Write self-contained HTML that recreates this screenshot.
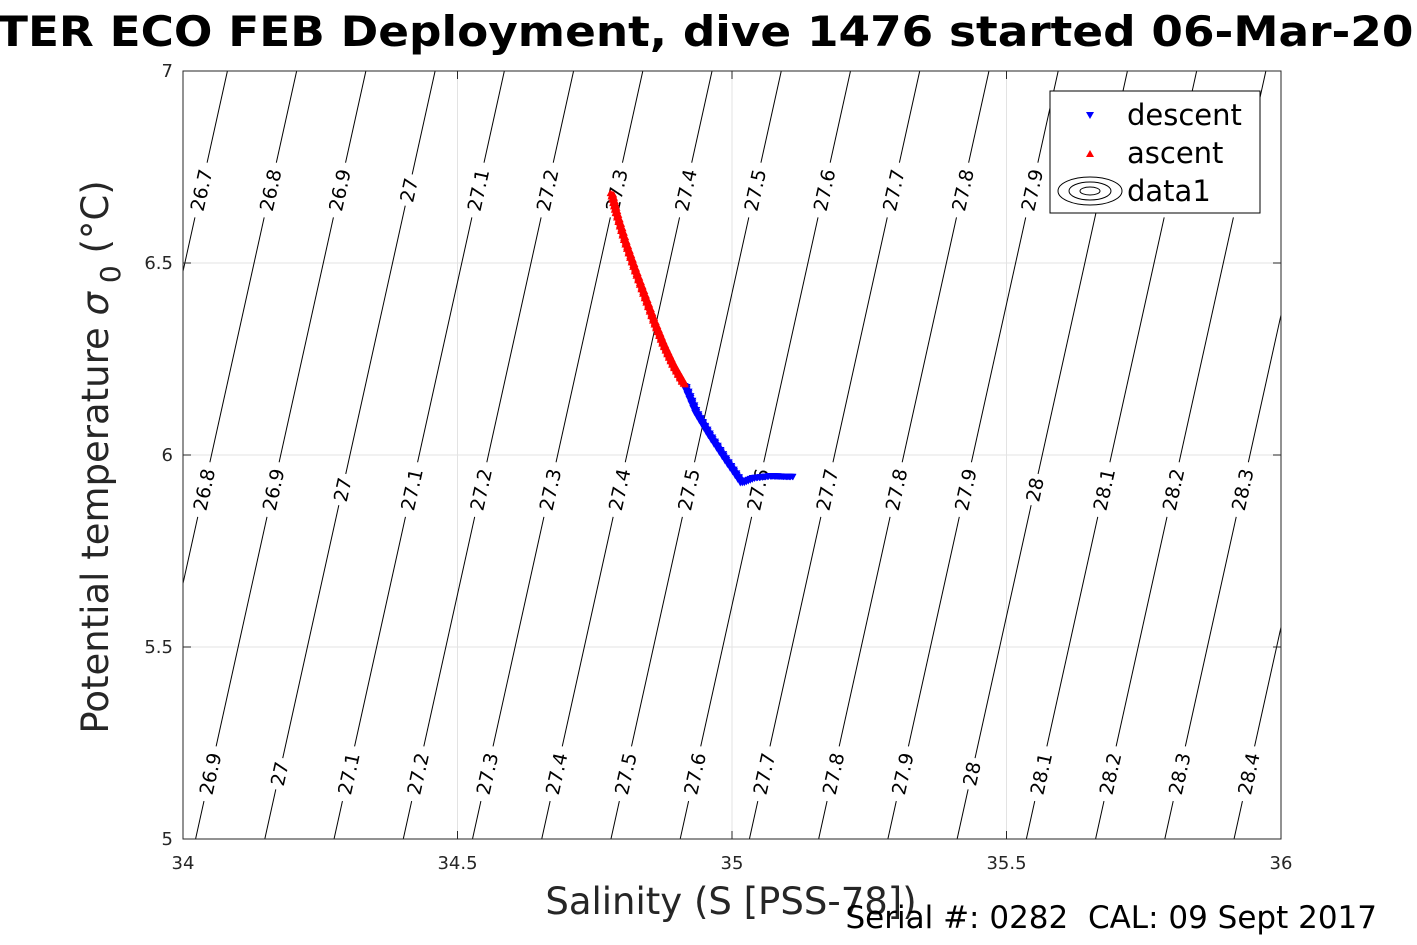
<!DOCTYPE html>
<html><head><meta charset="utf-8"><style>
html,body{margin:0;padding:0;background:#fff;overflow:hidden;}
svg{display:block;font-family:"DejaVu Sans","Liberation Sans",sans-serif;}
</style></head><body>
<svg id="chart" width="1417" height="945">
<g><text x="-3" y="46" font-size="42" font-weight="bold" textLength="1448" lengthAdjust="spacingAndGlyphs">TER ECO FEB Deployment, dive 1476 started 06-Mar-201</text></g>
<rect x="183" y="71" width="1098" height="768" fill="#fff" stroke="none"/>
<g id="grid"></g>
<g id="contours"></g>
<g id="series"></g>
<g id="axes"></g>
<g>
<rect x="1050" y="91" width="210" height="122" fill="#fff" stroke="#000" stroke-width="1"/>
<polygon points="1086,112 1094,112 1090,119" fill="#00f"/>
<text x="1127" y="125" font-size="29">descent</text>
<polygon points="1086,157 1094,157 1090,150" fill="#f00"/>
<text x="1127" y="163" font-size="29">ascent</text>
<g fill="none" stroke="#000" stroke-width="1">
<ellipse cx="1090" cy="191" rx="32" ry="14"/><ellipse cx="1090" cy="191" rx="21" ry="9"/><ellipse cx="1090" cy="191" rx="10" ry="4"/></g>
<text x="1127" y="201" font-size="29">data1</text>
</g>
<text x="731" y="914" text-anchor="middle" font-size="37" fill="#262626">Salinity (S [PSS-78])</text>
<text transform="translate(108,457) rotate(-90)" text-anchor="middle" font-size="37" fill="#262626">Potential temperature <tspan font-style="italic">σ</tspan><tspan dy="12" font-size="28"> 0</tspan><tspan dy="-12"> (°C)</tspan></text>
<text x="1377" y="928" text-anchor="end" font-size="31" xml:space="preserve" style="white-space:pre">Serial #: 0282  CAL: 09 Sept 2017</text>
</svg>
<script>
const xTicks=[34,34.5,35,35.5,36];
const yTicks=[5,5.5,6,6.5,7];
const xTickLabels=["34","34.5","35","35.5","36"];
const yTickLabels=["5","5.5","6","6.5","7"];
const levels=[26.5,26.6,26.7,26.8,26.9,27.0,27.1,27.2,27.3,27.4,27.5,27.6,27.7,27.8,27.9,28.0,28.1,28.2,28.3,28.4,28.5,28.6];
const labelTemps=[6.69,5.91,5.17];
const ascentS=[34.781,34.790,34.805,34.822,34.840,34.858,34.875,34.893,34.914];
const ascentT=[6.682,6.630,6.560,6.490,6.420,6.350,6.290,6.235,6.182];
const descentS=[34.914,34.935,34.960,34.990,35.018,35.040,35.070,35.111];
const descentT=[6.182,6.110,6.050,5.985,5.927,5.940,5.945,5.943];
const NS="http://www.w3.org/2000/svg";
const X0=183,X1=1281,Y0=839,Y1=71;
const sx=s=>X0+(s-34)/(36-34)*(X1-X0);
const sy=t=>Y0-(t-5)/(7-5)*(Y0-Y1);
const sAt=(sig,t)=>34.149+(sig-27.0+0.123*(t-5))/0.793;
function mk(tag,attrs,parent){const e=document.createElementNS(NS,tag);for(const k in attrs)e.setAttribute(k,attrs[k]);parent.appendChild(e);return e;}
const grid=document.getElementById('grid'),cont=document.getElementById('contours'),ser=document.getElementById('series'),axes=document.getElementById('axes');
xTicks.forEach((v,i)=>{const l=mk('line',{x1:sx(v),x2:sx(v),y1:Y0,y2:Y1,stroke:'#e3e3e3','stroke-width':1},grid);

const t=mk('text',{x:sx(v),y:Y0+30,'text-anchor':'middle','font-size':18,fill:'#262626'},axes);t.textContent=xTickLabels[i];

mk('line',{x1:sx(v),x2:sx(v),y1:Y0,y2:Y0-8,stroke:'#262626'},axes);mk('line',{x1:sx(v),x2:sx(v),y1:Y1,y2:Y1+8,stroke:'#262626'},axes);});
yTicks.forEach((v,i)=>{const l=mk('line',{x1:X0,x2:X1,y1:sy(v),y2:sy(v),stroke:'#e3e3e3','stroke-width':1},grid);

const t=mk('text',{x:X0-10,y:sy(v)+6,'text-anchor':'end','font-size':18,fill:'#262626'},axes);t.textContent=yTickLabels[i];

mk('line',{x1:X0,x2:X0+8,y1:sy(v),y2:sy(v),stroke:'#262626'},axes);mk('line',{x1:X1,x2:X1-8,y1:sy(v),y2:sy(v),stroke:'#262626'},axes);});
mk('rect',{x:X0,y:Y1,width:X1-X0,height:Y0-Y1,fill:'none',stroke:'#262626','stroke-width':1},axes);
const cp=mk('clipPath',{id:'clip'},document.getElementById('chart'));mk('rect',{x:X0,y:Y1,width:X1-X0,height:Y0-Y1},cp);
cont.setAttribute('clip-path','url(#clip)');
const ang=Math.atan2(sx(sAt(27,7))-sx(sAt(27,5)),Y0-Y1)*180/Math.PI;
levels.forEach(lv=>{
 const l=mk('line',{x1:sx(sAt(lv,5)),y1:sy(5),x2:sx(sAt(lv,7)),y2:sy(7),stroke:'#000','stroke-width':1},cont);
 
 labelTemps.forEach(t=>{const s=sAt(lv,t);const x=sx(s),y=sy(t);
  if(x<X0+8||x>X1-8)return;
  const txt=(Math.round(lv*10)/10).toString();
  const g=mk('g',{transform:`translate(${x},${y}) rotate(${ang-90})`},cont);
  mk('rect',{x:-txt.length*6-4,y:-12,width:txt.length*12+8,height:24,fill:'#fff'},g);
  const tx=mk('text',{x:0,y:7,'text-anchor':'middle','font-size':19},g);tx.textContent=txt;
  });
});
function markers(S,T,color,up,name){
 for(let i=0;i<S.length-1;i++){const n=30;for(let j=0;j<n;j++){const f=j/n;const s=S[i]+(S[i+1]-S[i])*f,t=T[i]+(T[i+1]-T[i])*f;
  const x=sx(s)+((j*7)%5-2)*0.8,y=sy(t);
  const p=up?`${x-3.5},${y+3} ${x+3.5},${y+3} ${x},${y-3.5}`:`${x-3.5},${y-3} ${x+3.5},${y-3} ${x},${y+3.5}`;
  const m=mk('polygon',{points:p,fill:color},ser);
  }}
}
markers(descentS,descentT,'#00f',false,'descent-point');
markers(ascentS,ascentT,'#f00',true,'ascent-point');
</script>
</body></html>
